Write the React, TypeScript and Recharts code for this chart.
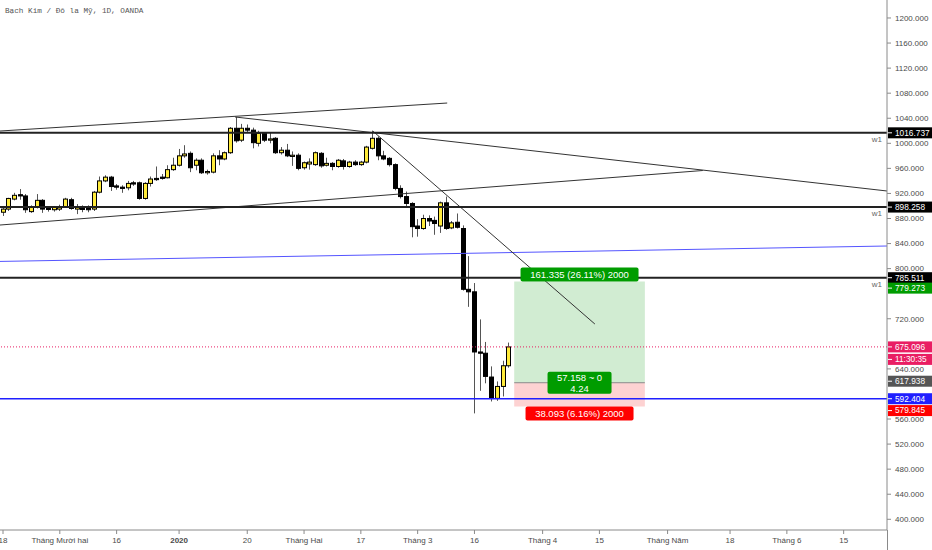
import React from "react";
import { Bar, ComposedChart, ReferenceArea, ReferenceLine, XAxis, YAxis } from "recharts";

// Platinum / USD daily candles, 18 Nov 2019 -> 24 Mar 2020 (OANDA)
const opens = [
  890, 895, 911, 918, 916, 891, 898, 909, 896, 894, 895, 899, 910, 895, 896, 898, 895, 922, 940, 946,
  932, 930, 929, 937, 937, 912, 936, 944, 946, 945, 958, 965, 980, 984, 965, 973, 953, 954, 980, 975,
  985, 1024, 1005, 1024, 1021, 1000, 1016, 1005, 1008, 985, 989, 979, 981, 961, 967, 966, 984, 965, 968, 963,
  972, 963, 970, 966, 970, 992, 1008, 980, 976, 966, 928, 915, 904, 868, 864, 880, 877, 868, 905, 865,
  874, 864, 767, 763, 667, 665, 627, 593, 612, 645,
];
const highs = [
  900, 913, 921, 927, 919, 901, 919, 911, 898, 900, 902, 913, 913, 903, 901, 901, 924, 947, 949, 948,
  935, 933, 940, 940, 939, 938, 947, 963, 951, 965, 977, 991, 997, 987, 976, 976, 958, 984, 989, 987,
  1026, 1042, 1031, 1030, 1025, 1020, 1018, 1018, 1010, 994, 999, 987, 984, 971, 976, 987, 986, 977, 970, 975,
  975, 972, 973, 972, 996, 1020, 1011, 988, 978, 968, 933, 923, 906, 879, 886, 885, 883, 907, 915, 876,
  888, 869, 820, 777, 719, 683, 644, 620, 653, 682,
];
const lows = [
  884, 892, 909, 910, 889, 889, 896, 889, 891, 891, 892, 897, 894, 887, 890, 890, 892, 920, 938, 924,
  926, 921, 925, 932, 910, 910, 931, 940, 942, 944, 956, 963, 977, 954, 957, 951, 950, 952, 965, 973,
  983, 1001, 1002, 1018, 992, 995, 1002, 1000, 983, 982, 978, 964, 957, 958, 958, 964, 961, 963, 957, 961,
  958, 961, 964, 964, 968, 990, 973, 973, 963, 925, 912, 899, 850, 851, 862, 868, 854, 857, 862, 863,
  864, 765, 739, 569, 605, 617, 588, 589, 596, 642,
];
const closes = [
  895, 912, 917, 916, 894, 898, 909, 895, 895, 898, 898, 911, 896, 899, 895, 894, 922, 940, 946, 931,
  930, 928, 936, 935, 912, 936, 943, 942, 944, 958, 965, 980, 983, 961, 973, 953, 955, 980, 975, 985,
  1024, 1004, 1024, 1021, 1001, 1016, 1005, 1007, 985, 989, 980, 981, 960, 969, 970, 985, 964, 968, 963, 973,
  963, 970, 966, 970, 994, 1008, 980, 975, 966, 928, 915, 904, 867, 864, 880, 876, 872, 905, 864, 873,
  866, 767, 763, 667, 665, 628, 593, 612, 645, 675.096,
];

// bar slots where the time-axis labels sit
const xTickSlots = [0, 10, 20, 31, 43, 53, 63, 73, 83, 95, 105, 117, 128, 138, 148];
const xTickLabels = [
  "18", "Tháng Mười hai", "16", "2020", "20", "Tháng Hai", "17", "Tháng 3", "16",
  "Tháng 4", "15", "Tháng Năm", "18", "Tháng 6", "15",
];
// 600 / 680 / 760 sit under the price tags
const yTicks = [400, 440, 480, 520, 560, 640, 720, 800, 840, 880, 920, 960, 1000, 1040, 1080, 1120, 1160, 1200];

// horizontal levels
const weeklyLevels = [1016.737, 898.258, 785.511];
const supportLevel = 592.404;
const lastPrice = 675.096;

// long position tool
const entryPrice = 617.938;
const targetPrice = 779.273;
const stopPrice = 579.845;
const positionSlots = [90, 113];

// trend lines [slot1, price1, slot2, price2]
const blackTrends = [
  [-0.53, 1019.6, 78.2, 1064.3],
  [40.85, 1042.0, 155.63, 923.9],
  [65.1, 1019.6, 104.2, 711.6],
  [-0.53, 869.6, 123.2, 956.6],
];
const blueTrend = [-0.53, 811.5, 155.63, 836.1];

const candles = opens.map((o, i) => ({
  i,
  o,
  h: highs[i],
  l: lows[i],
  c: closes[i],
  range: [lows[i], highs[i]],
}));

const FONT = "'Liberation Sans', Arial, sans-serif";
const AXIS = "#8a8a8a";

function Candle(props: any) {
  const { x, y, width, height, payload } = props;
  if (!payload) return null;
  const { o, h, l, c } = payload;
  const top = Math.min(y, y + height);
  const span = Math.abs(height);
  const k = span / (h - l || 1);
  const py = (p: number) => top + (h - p) * k;
  const cx = Math.round(x + width / 2) + 0.5;
  const up = c >= o;
  const bTop = py(Math.max(o, c));
  const bBot = py(Math.min(o, c));
  return (
    <g>
      <line x1={cx} x2={cx} y1={top} y2={top + span} stroke="#555" strokeWidth={1} />
      <rect
        x={cx - 2}
        y={bTop}
        width={4}
        height={Math.max(1, bBot - bTop)}
        fill={up ? "#ffeb3b" : "#000"}
        stroke="#000"
        strokeWidth={1}
      />
    </g>
  );
}

function XTick(props: any) {
  const { x, y, payload } = props;
  const idx = xTickSlots.indexOf(payload.value);
  const text = xTickLabels[idx] ?? "";
  return (
    <text
      x={x}
      y={y + 7}
      textAnchor="middle"
      fontSize={8}
      fontFamily={FONT}
      fontWeight={text === "2020" ? "bold" : "normal"}
      fill="#4a4a4a"
    >
      {text}
    </text>
  );
}

function Tag(props: any) {
  const { viewBox, text, bg, dy = 0, withW1 = false } = props;
  if (!viewBox) return null;
  const x = viewBox.x + viewBox.width;
  const y = viewBox.y + dy;
  return (
    <g>
      {withW1 && (
        <text x={x - 5} y={viewBox.y + 9} textAnchor="end" fontSize={8} fontFamily={FONT} fill="#666">
          w1
        </text>
      )}
      <rect x={x + 1} y={y - 5.5} width={45} height={11} fill={bg} />
      <line x1={x + 1} x2={x + 5} y1={y} y2={y} stroke="#fff" />
      <text x={x + 8} y={y} dy="0.35em" fontSize={8.3} fontFamily={FONT} fill="#fff">
        {text}
      </text>
    </g>
  );
}

function Pill(props: any) {
  const { viewBox, lines, bg, w, h, place } = props;
  if (!viewBox) return null;
  const cx = viewBox.x + viewBox.width / 2;
  let top = viewBox.y - h / 2;
  if (place === "above") top = viewBox.y - h;
  if (place === "below") top = viewBox.y;
  const lh = h / lines.length;
  return (
    <g>
      <rect x={cx - w / 2} y={top} width={w} height={h} rx={2} fill={bg} />
      {lines.map((t: string, n: number) => (
        <text
          key={n}
          x={cx}
          y={top + lh * n + lh / 2}
          dy="0.36em"
          textAnchor="middle"
          fontSize={9.5}
          fontFamily={FONT}
          fill="#fff"
        >
          {t}
        </text>
      ))}
    </g>
  );
}

export default function App() {
  return (
    <div style={{ position: "relative", width: 932, height: 550, background: "#fff" }}>
      <style>{"body{margin:0}"}</style>
      <ComposedChart width={932} height={550} data={candles} margin={{ top: 0, right: 0, bottom: 0, left: 0 }}>
        <XAxis
          dataKey="i"
          type="number"
          domain={[-0.53, 155.63]}
          allowDataOverflow
          ticks={xTickSlots}
          tick={<XTick />}
          height={20}
          stroke={AXIS}
          tickSize={4}
          interval={0}
        />
        <YAxis
          orientation="right"
          domain={[382.9, 1228.7]}
          allowDataOverflow
          ticks={yTicks}
          width={45}
          stroke={AXIS}
          tickSize={4}
          tickMargin={4}
          interval={0}
          tick={{ fontSize: 8, fill: "#4a4a4a", fontFamily: FONT }}
          tickFormatter={(v: number) => v.toFixed(3)}
        />

        <ReferenceArea
          x1={positionSlots[0]}
          x2={positionSlots[1]}
          y1={entryPrice}
          y2={targetPrice}
          fill="#d1ecd2"
          fillOpacity={1}
          stroke="none"
        />
        <ReferenceArea
          x1={positionSlots[0]}
          x2={positionSlots[1]}
          y1={stopPrice}
          y2={entryPrice}
          fill="#fdd2d2"
          fillOpacity={1}
          stroke="none"
        />

        <ReferenceLine y={lastPrice} stroke="#e91e63" strokeDasharray="1 2" />
        <ReferenceLine
          segment={[
            { x: blueTrend[0], y: blueTrend[1] },
            { x: blueTrend[2], y: blueTrend[3] },
          ]}
          stroke="#5555ff"
          strokeWidth={1}
        />
        {blackTrends.map((t, n) => (
          <ReferenceLine
            key={"t" + n}
            segment={[
              { x: t[0], y: t[1] },
              { x: t[2], y: t[3] },
            ]}
            stroke="#333"
            strokeWidth={1}
          />
        ))}
        <ReferenceLine y={supportLevel} stroke="#1f1fff" strokeWidth={1.6} />
        {weeklyLevels.map((v) => (
          <ReferenceLine key={v} y={v} stroke="#222" strokeWidth={2} />
        ))}

        <Bar dataKey="range" barSize={5} shape={<Candle />} isAnimationActive={false} />

        <ReferenceLine
          segment={[
            { x: positionSlots[0], y: entryPrice },
            { x: positionSlots[1], y: entryPrice },
          ]}
          stroke="#8a8a8a"
          label={<Pill lines={["57.158 ~ 0", "4.24"]} bg="#009c00" w={64} h={22} place="center" />}
        />
        <ReferenceLine
          segment={[
            { x: positionSlots[0], y: targetPrice },
            { x: positionSlots[1], y: targetPrice },
          ]}
          stroke="none"
          label={<Pill lines={["161.335 (26.11%) 2000"]} bg="#009c00" w={118} h={14} place="above" />}
        />
        <ReferenceLine
          segment={[
            { x: positionSlots[0], y: stopPrice },
            { x: positionSlots[1], y: stopPrice },
          ]}
          stroke="none"
          label={<Pill lines={["38.093 (6.16%) 2000"]} bg="#ff0000" w={108} h={14} place="below" />}
        />

        {weeklyLevels.map((v) => (
          <ReferenceLine
            key={"tag" + v}
            y={v}
            stroke="none"
            ifOverflow="visible"
            label={<Tag text={v.toFixed(3)} bg="#000" withW1 />}
          />
        ))}
        <ReferenceLine y={targetPrice} stroke="none" ifOverflow="visible" label={<Tag text={targetPrice.toFixed(3)} bg="#009c00" dy={6.5} />} />
        <ReferenceLine y={lastPrice} stroke="none" ifOverflow="visible" label={<Tag text={lastPrice.toFixed(3)} bg="#e91e63" />} />
        <ReferenceLine y={lastPrice} stroke="none" ifOverflow="visible" label={<Tag text="11:30:35" bg="#e91e63" dy={12.5} />} />
        <ReferenceLine y={entryPrice} stroke="none" ifOverflow="visible" label={<Tag text={entryPrice.toFixed(3)} bg="#555" dy={-1.5} />} />
        <ReferenceLine y={supportLevel} stroke="none" ifOverflow="visible" label={<Tag text={supportLevel.toFixed(3)} bg="#1f1fff" />} />
        <ReferenceLine y={stopPrice} stroke="none" ifOverflow="visible" label={<Tag text={stopPrice.toFixed(3)} bg="#ff0000" dy={4} />} />
      </ComposedChart>
      <div style={{ position: "absolute", left: 887, top: 530, width: 1, height: 20, background: AXIS }} />
      <div
        style={{
          position: "absolute",
          left: 5,
          top: 7,
          fontFamily: "'Liberation Mono', 'DejaVu Sans Mono', monospace",
          fontSize: 7.7,
          color: "#555",
          whiteSpace: "nowrap",
        }}
      >
        Bạch Kim / Đô la Mỹ, 1D, OANDA
      </div>
    </div>
  );
}
